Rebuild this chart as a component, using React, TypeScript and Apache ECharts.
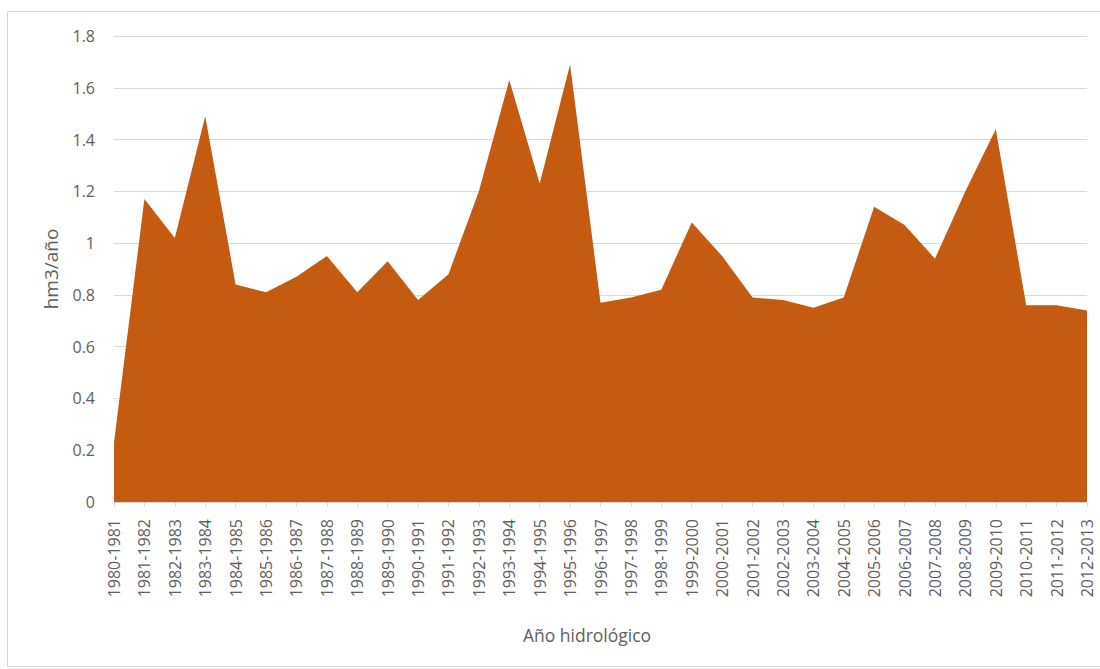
import React, { useEffect, useRef } from "react";
import * as echarts from "echarts";

// Hydrological years (Oct–Sep)
const years: string[] = [
  "1980-1981", "1981-1982", "1982-1983", "1983-1984", "1984-1985", "1985-1986",
  "1986-1987", "1987-1988", "1988-1989", "1989-1990", "1990-1991", "1991-1992",
  "1992-1993", "1993-1994", "1994-1995", "1995-1996", "1996-1997", "1997-1998",
  "1998-1999", "1999-2000", "2000-2001", "2001-2002", "2002-2003", "2003-2004",
  "2004-2005", "2005-2006", "2006-2007", "2007-2008", "2008-2009", "2009-2010",
  "2010-2011", "2011-2012", "2012-2013",
];

// Annual volume, hm3/año
const volumes: number[] = [
  0.23, 1.17, 1.02, 1.49, 0.84, 0.81,
  0.87, 0.95, 0.81, 0.93, 0.78, 0.88,
  1.2, 1.63, 1.23, 1.69, 0.77, 0.79,
  0.82, 1.08, 0.95, 0.79, 0.78, 0.75,
  0.79, 1.14, 1.07, 0.94, 1.2, 1.44,
  0.76, 0.76, 0.74,
];

const FONT = "'Open Sans', 'Noto Sans', sans-serif";
const TEXT = "#606060";
const LINE = "#d9d9d9";

export default function App() {
  const ref = useRef<HTMLDivElement>(null);

  useEffect(() => {
    document.body.style.margin = "0";
    if (!ref.current) return;
    const chart = echarts.init(ref.current, undefined, { renderer: "svg" });
    chart.setOption({
      animation: false,
      backgroundColor: "#ffffff",
      textStyle: { fontFamily: FONT },
      graphic: [
        {
          type: "rect",
          shape: { x: 7.5, y: 11.5, width: 1100, height: 655 },
          style: { fill: "none", stroke: LINE, lineWidth: 1 },
          silent: true,
        },
      ],
      grid: { left: 114, right: 13, top: 36, bottom: 167, containLabel: false },
      xAxis: {
        type: "category",
        data: years,
        boundaryGap: false,
        name: "Año hidrológico",
        nameLocation: "middle",
        nameGap: 124,
        nameTextStyle: {
          color: TEXT,
          fontSize: 17.5,
          fontFamily: FONT,
          padding: [0, 27, 0, 0],
        },
        axisLine: { show: true, lineStyle: { color: LINE, width: 1 } },
        axisTick: { show: true, alignWithLabel: true, length: 5, lineStyle: { color: LINE } },
        axisLabel: {
          interval: 0,
          rotate: 90,
          margin: 17,
          color: TEXT,
          fontSize: 16,
          fontFamily: FONT,
        },
        splitLine: { show: false },
      },
      yAxis: {
        type: "value",
        min: 0,
        max: 1.8,
        interval: 0.2,
        name: "hm3/año",
        nameLocation: "middle",
        nameGap: 54,
        nameRotate: 90,
        nameTextStyle: { color: TEXT, fontSize: 19, fontFamily: FONT },
        axisLine: { show: false },
        axisTick: { show: false },
        axisLabel: {
          color: TEXT,
          fontSize: 16,
          fontFamily: FONT,
          margin: 19,
          formatter: (v: number) => String(Math.round(v * 10) / 10),
        },
        splitLine: { show: true, lineStyle: { color: LINE, width: 1 } },
      },
      series: [
        {
          type: "line",
          data: volumes,
          symbol: "none",
          lineStyle: { width: 0 },
          areaStyle: { color: "#c55a11", opacity: 1 },
          itemStyle: { color: "#c55a11" },
        },
      ],
    });
    return () => chart.dispose();
  }, []);

  return <div ref={ref} style={{ width: 1100, height: 669 }} />;
}
